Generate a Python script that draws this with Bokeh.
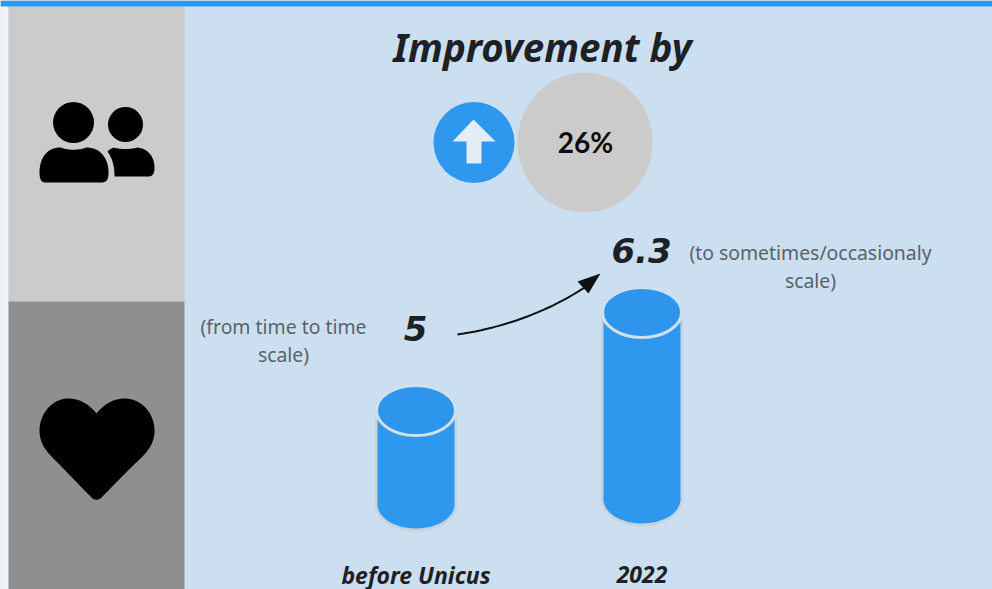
from bokeh.core.properties import value
from bokeh.embed import file_html
from bokeh.models import ColumnDataSource, Range1d
from bokeh.plotting import figure
from bokeh.resources import INLINE

# Chart content
categories = ["before Unicus", "2022"]
scores = [5, 6.3]
score_labels = ["5", "6.3"]
title_text = "Improvement by"
improvement_label = "26%"
left_note = ["(from time to time", "scale)"]
right_note = ["(to sometimes/occasionaly", "scale)"]

W, H = 992, 589

# Score axis: pixel height of a score is PX_AT_ZERO - PX_PER_UNIT * score
PX_AT_ZERO, PX_PER_UNIT = 787.0, 75.4
# Category axis: first cylinder centre and the spacing between cylinders
FIRST_X, STEP_X = 415.5, 226.0
# Pixel row of each cylinder's lower ellipse centre
floor_px = [504.0, 499.0]

BLUE = "#2e97ee"
TOP_BLUE = "#2d95ec"
BACK = "#cbdff1"
RIM = "#c6d2dc"
SANS = value("Noto Sans")
WIDE = value("DejaVu Sans")


def score_at(px):
    return (PX_AT_ZERO - px) / PX_PER_UNIT


p = figure(
    width=W, height=H, output_backend="svg", toolbar_location=None,
    x_range=Range1d(0, W), y_range=Range1d(H, 0),
    min_border=0, outline_line_color=None, background_fill_color=BACK,
)
p.axis.visible = False
p.grid.visible = False
p.extra_x_ranges["category"] = Range1d(-FIRST_X / STEP_X, (W - FIRST_X) / STEP_X)
p.extra_y_ranges["score"] = Range1d(score_at(H), score_at(0))


def bez(p0, p1, p2, p3, n=24):
    xs, ys = [], []
    for i in range(n + 1):
        t = i / n
        u = 1 - t
        xs.append(u**3 * p0[0] + 3 * u * u * t * p1[0] + 3 * u * t * t * p2[0] + t**3 * p3[0])
        ys.append(u**3 * p0[1] + 3 * u * u * t * p1[1] + 3 * u * t * t * p2[1] + t**3 * p3[1])
    return xs, ys


def path(*segments):
    xs, ys = [], []
    for s in segments:
        a, b = bez(*s)
        xs += a
        ys += b
    return xs, ys


def panel(x0, x1, y0, y1, color):
    p.quad(left=x0, right=x1, top=y0, bottom=y1, fill_color=color, line_color=None)


# Page furniture
panel(0, 8, 0, H, "#f3f3f3")
panel(8, 184, 6, 301, "#cbcbcb")
panel(8, 184, 301, H, "#8f8f8f")
panel(0, W, 0, 6, BLUE)

# People icon
p.ellipse(x=[73, 125], y=[122, 124], width=[41, 35], height=[41, 35], fill_color="black", line_color=None)
body_x, body_y = path(
    ((39, 172), (39, 158), (46, 147), (60, 147)),
    ((60, 147), (68, 150), (78, 150), (86, 147)),
    ((86, 147), (100, 147), (108, 158), (108, 172)),
    ((108, 172), (108, 179), (106, 182), (101, 182)),
    ((101, 182), (80, 182), (66, 182), (45, 182)),
    ((45, 182), (41, 182), (39, 179), (39, 172)),
)
p.patch(body_x, body_y, fill_color="black", line_color=None)
small_x, small_y = path(
    ((107, 151), (109, 149), (111, 148), (113, 147)),
    ((113, 147), (120, 149), (130, 149), (137, 147)),
    ((137, 147), (147, 148), (154, 156), (154, 167)),
    ((154, 167), (154, 173), (152, 176), (148, 176)),
    ((148, 176), (136, 176), (126, 176), (114, 176)),
    ((114, 176), (114, 166), (112, 158), (107, 151)),
)
p.patch(small_x, small_y, fill_color="black", line_color=None)

# Heart icon
heart_x, heart_y = path(
    ((96, 413), (88, 403), (78, 398), (68, 398)),
    ((68, 398), (51, 398), (39, 414), (39, 430)),
    ((39, 430), (39, 442), (45, 450), (52, 457)),
    ((52, 457), (65, 470), (78, 484), (91, 497)),
    ((91, 497), (94, 500), (98, 500), (101, 497)),
    ((101, 497), (114, 484), (127, 470), (141, 457)),
    ((141, 457), (148, 450), (154, 442), (154, 430)),
    ((154, 430), (154, 414), (142, 398), (124, 398)),
    ((124, 398), (114, 398), (104, 403), (96, 413)),
)
p.patch(heart_x, heart_y, fill_color="black", line_color=None)

# Improvement badge
p.text(x=[542], y=[46], text=[title_text], text_font=SANS, text_font_size="38.5px",
       text_font_style="bold italic", text_color="#1d2125", text_align="center", text_baseline="middle")
p.ellipse(x=[473.5], y=[142], width=[81], height=[81], fill_color=BLUE, line_color=None)
p.patch([473, 495, 481, 481, 466, 466, 452], [119, 141, 141, 163, 163, 141, 141],
        fill_color="#e4edf5", line_color=None)
p.ellipse(x=[584.5], y=[142], width=[135], height=[140], fill_color="#cbcbcb", line_color=None)
p.text(x=[585], y=[141], text=[improvement_label], text_font=value("Lato"), text_font_size="28px",
       text_font_style="bold", text_color="#0b0b0b", text_align="center", text_baseline="middle")

# Cylinders: the top ellipse sits at the score, the lower one at the cylinder's foot
index = list(range(len(scores)))
source = ColumnDataSource(dict(
    i=index,
    score=scores,
    floor=[score_at(v) for v in floor_px],
))
ranges = dict(x_range_name="category", y_range_name="score", source=source)

p.ellipse(x="i", y="floor", width=82, height=54, width_units="screen", height_units="screen",
          fill_color=RIM, line_color=None, **ranges)
p.vbar(x="i", bottom="floor", top="score", width=82 / STEP_X, fill_color=RIM, line_color=None, **ranges)
p.ellipse(x="i", y="floor", width=77, height=48, width_units="screen", height_units="screen",
          fill_color=BLUE, line_color=None, **ranges)
p.vbar(x="i", bottom="floor", top="score", width=77 / STEP_X, fill_color=BLUE, line_color=None, **ranges)
p.ellipse(x="i", y="score", width=79, height=50, width_units="screen", height_units="screen",
          fill_color=TOP_BLUE, line_color="#cfe0ee", line_width=3, **ranges)

# Category names below the cylinders
p.text(x=index, y=[score_at(574), score_at(574)], text=categories, text_font=SANS, text_font_size="23px",
       text_font_style="bold italic", text_color="#1d2125", text_align="center", text_baseline="middle",
       x_range_name="category", y_range_name="score")

# Score labels and scale notes
p.text(x=[415], y=[328], text=[score_labels[0]], text_font=WIDE, text_font_size="34px",
       text_font_style="bold italic", text_color="#1d2125", text_align="center", text_baseline="middle")
p.text(x=[641], y=[250], text=[score_labels[1]], text_font=WIDE, text_font_size="34px",
       text_font_style="bold italic", text_color="#1d2125", text_align="center", text_baseline="middle")
for note, cx, rows in ((left_note, 283, (326, 354)), (right_note, 810, (252, 280))):
    p.text(x=[cx, cx], y=list(rows), text=note, text_font=SANS, text_font_size="19.4px",
           text_color="#59636b", text_align="center", text_baseline="middle")

# Curved arrow between the two scores
curve_x, curve_y = bez((457, 334), (505, 327), (550, 310), (587, 285))
p.line(curve_x, curve_y, line_color="#111111", line_width=2)
p.patch([600, 588, 577], [273, 293, 281], fill_color="#111111", line_color=None)

open("out.html", "w").write(file_html(p, INLINE))
